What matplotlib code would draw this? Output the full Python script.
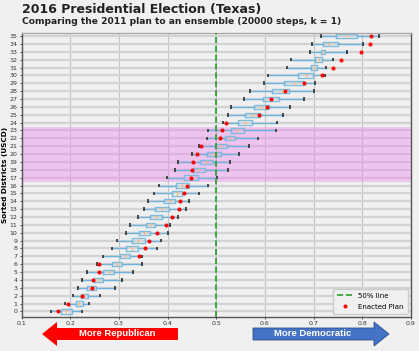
import matplotlib.pyplot as plt
from matplotlib.patches import Polygon

# sorted districts 0..35, ensemble box stats and the enacted (2011) plan
districts = list(range(36))
whis_lo = [0.160, 0.190, 0.205, 0.216, 0.224, 0.234, 0.255, 0.268, 0.285, 0.296,
           0.315, 0.322, 0.339, 0.352, 0.359, 0.372, 0.382, 0.399, 0.416, 0.421,
           0.450, 0.464, 0.480, 0.484, 0.514, 0.524, 0.531, 0.558, 0.569, 0.598,
           0.606, 0.646, 0.653, 0.692, 0.697, 0.715]
q1 = [0.181, 0.212, 0.222, 0.234, 0.249, 0.268, 0.286, 0.303, 0.315, 0.327,
      0.341, 0.355, 0.364, 0.375, 0.392, 0.409, 0.418, 0.433, 0.452, 0.466,
      0.482, 0.498, 0.517, 0.531, 0.545, 0.560, 0.577, 0.596, 0.614, 0.640,
      0.668, 0.694, 0.702, 0.716, 0.719, 0.746]
med = [0.192, 0.218, 0.229, 0.241, 0.258, 0.279, 0.297, 0.313, 0.327, 0.339,
       0.352, 0.364, 0.376, 0.389, 0.404, 0.419, 0.430, 0.447, 0.464, 0.480,
       0.495, 0.508, 0.528, 0.543, 0.560, 0.574, 0.592, 0.613, 0.635, 0.660,
       0.685, 0.700, 0.711, 0.719, 0.730, 0.766]
q3 = [0.203, 0.226, 0.236, 0.252, 0.268, 0.291, 0.307, 0.323, 0.339, 0.353,
      0.363, 0.374, 0.388, 0.402, 0.415, 0.430, 0.445, 0.463, 0.476, 0.493,
      0.510, 0.522, 0.539, 0.556, 0.573, 0.589, 0.608, 0.629, 0.650, 0.680,
      0.699, 0.707, 0.718, 0.723, 0.750, 0.790]
whis_hi = [0.225, 0.238, 0.262, 0.293, 0.306, 0.330, 0.347, 0.348, 0.378, 0.386,
           0.400, 0.404, 0.422, 0.438, 0.445, 0.465, 0.484, 0.502, 0.524, 0.529,
           0.546, 0.567, 0.585, 0.622, 0.625, 0.637, 0.652, 0.681, 0.700, 0.702,
           0.724, 0.725, 0.740, 0.769, 0.802, 0.834]
enacted = [0.174, 0.196, 0.224, 0.244, 0.247, 0.259, 0.259, 0.342, 0.354, 0.361,
           0.378, 0.397, 0.409, 0.423, 0.426, 0.433, 0.439, 0.448, 0.451, 0.452,
           0.460, 0.468, 0.508, 0.512, 0.519, 0.587, 0.604, 0.613, 0.642, 0.680,
           0.718, 0.739, 0.757, 0.797, 0.815, 0.817]
xticks = [0.1, 0.2, 0.3, 0.4, 0.5, 0.6, 0.7, 0.8, 0.9]

W, H = 419, 351
bg = '#f0f0f0'
fig = plt.figure(figsize=(W / 100, H / 100), dpi=100, facecolor=bg)
ax = fig.add_axes([21.5 / W, 1 - 317.3 / H, 389.5 / W, 284 / H])
ax.set_facecolor(bg)

stats = []
for i in districts:
    stats.append(dict(whislo=whis_lo[i], q1=q1[i], med=med[i], q3=q3[i],
                      whishi=whis_hi[i], fliers=[]))

ax.bxp(stats, positions=districts, orientation='horizontal', widths=0.55,
       showfliers=False, capwidths=0.2,
       boxprops=dict(color='#7cbde2', lw=1.0),
       medianprops=dict(color='#f3b77a', lw=0.8),
       whiskerprops=dict(color='#6fb2dc', lw=1.0),
       capprops=dict(color='#444444', lw=1.4))

ax.plot(enacted, districts, 'o', color='red', ms=2.9, mew=0, label='Enacted Plan', zorder=5)
ax.axvline(0.5, color='#2a9a2a', ls='--', lw=1.2, label='50% line', zorder=4)
ax.axhspan(16.5, 23.5, color='violet', alpha=0.4, lw=0, zorder=0.8)

ax.set_xlim(0.1, 0.9)
ax.set_ylim(-0.75, 35.35)
ax.set_xticks(xticks)
ax.set_xticklabels([str(t) for t in xticks])
ax.set_yticks(districts)
ax.set_yticklabels([str(d) for d in districts])
ax.tick_params(labelsize=4.5, length=1.5, width=0.6, pad=1.5, colors='#333333')
ax.set_axisbelow(True)
ax.grid(True, axis='y', color='#d3d3d3', lw=1.6)
ax.grid(True, axis='x', color='#c4c4c4', lw=0.8)
for s in ax.spines.values():
    s.set_color('#555555')
    s.set_linewidth(1.0)
ax.spines['top'].set_color('#aaaaaa')

ax.set_ylabel('Sorted Districts (USCD)', fontsize=5.2, weight='bold')
ax.yaxis.set_label_coords(-0.035, 0.5)

ax.legend(handles=ax.get_legend_handles_labels()[0][::-1], loc='lower right',
          fontsize=5, facecolor=bg, edgecolor='#cccccc', framealpha=1,
          handlelength=2.2, borderpad=0.6, labelspacing=0.7)

fig.text(21.7 / W, 1 - 2.5 / H, '2016 Presidential Election (Texas)',
         fontsize=9.0, weight='bold', va='top', color='#222222')
fig.text(21.7 / W, 1 - 17 / H,
         'Comparing the 2011 plan to an ensemble (20000 steps, k = 1)',
         fontsize=6.55, weight='bold', va='top', color='#222222')


def px(pts):
    return [(x / W, 1 - y / H) for x, y in pts]


red_arrow = [(42, 334), (57, 322), (57, 328), (178, 328), (178, 340), (57, 340), (57, 346)]
blue_arrow = [(253, 328), (374, 328), (374, 322), (389, 334), (374, 346), (374, 340), (253, 340)]
fig.patches.append(Polygon(px(red_arrow), closed=True, transform=fig.transFigure,
                           facecolor='#ff0000', edgecolor='none'))
fig.patches.append(Polygon(px(blue_arrow), closed=True, transform=fig.transFigure,
                           facecolor='#4472c4', edgecolor='#2f528f', lw=0.6))
fig.text(117 / W, 1 - 334 / H, 'More Republican', color='white', weight='bold',
         fontsize=6.8, family='Liberation Sans', ha='center', va='center')
fig.text(313 / W, 1 - 334 / H, 'More Democratic', color='white', weight='bold',
         fontsize=6.8, family='Liberation Sans', ha='center', va='center')

fig.savefig('out.png', dpi=100, facecolor=bg)
